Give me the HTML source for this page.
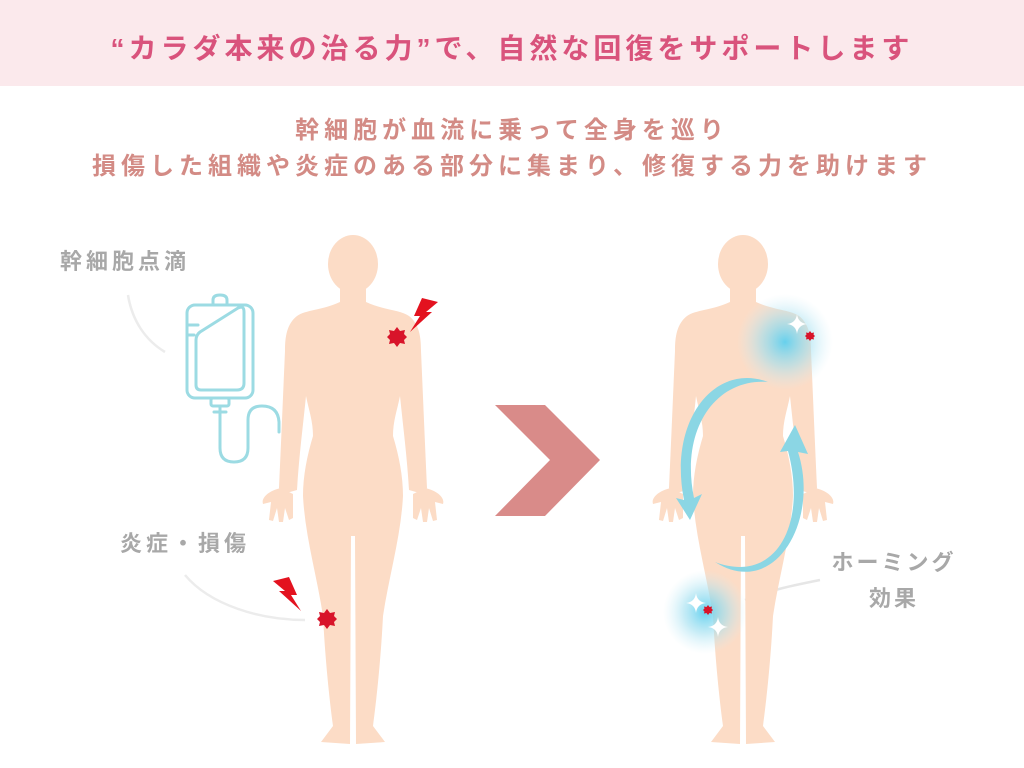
<!DOCTYPE html>
<html><head><meta charset="utf-8"><style>
body{margin:0;width:1024px;height:768px;background:#fff;overflow:hidden;position:relative;font-family:"Liberation Sans","Noto Sans CJK JP",sans-serif;}
.bar{position:absolute;left:0;top:0;width:1024px;height:86px;background:#fbe9ec;}
.t{position:absolute;white-space:nowrap;font-weight:bold;}
</style></head><body>
<div class="bar"></div>
<div class="t" style="left:0;width:1024px;text-align:center;top:27px;font-size:28px;color:#d9537c;letter-spacing:4px;">“カラダ本来の治る力”で、自然な回復をサポートします</div>
<div class="t" style="left:0;width:1024px;text-align:center;top:113px;font-size:24px;color:#d38b85;letter-spacing:5px;line-height:36px;">幹細胞が血流に乗って全身を巡り<br>損傷した組織や炎症のある部分に集まり、修復する力を助けます</div>
<div class="t" style="left:60px;top:244px;font-size:22px;color:#a8a8a8;letter-spacing:4px;">幹細胞点滴</div>
<div class="t" style="left:120px;top:526px;font-size:22px;color:#a8a8a8;letter-spacing:4px;">炎症・損傷</div>
<div class="t" style="left:826px;top:545px;width:136px;text-align:center;font-size:22px;color:#a8a8a8;letter-spacing:3px;line-height:36px;">ホーミング<br>効果</div>
<svg width="1024" height="768" style="position:absolute;left:0;top:0">
<defs>
<symbol id="body" overflow="visible">
<g fill="#fcdcc6" stroke="none">
<ellipse cx="0" cy="28" rx="25" ry="29"/>
<rect x="-13" y="45" width="26" height="30"/>
<path d="M -13,66 C -30,74 -48,74 -56,80 C -66,88 -68,100 -68,115 C -70,160 -72,210 -74,252 L -70,258 L -56,254 C -54,220 -50,190 -47,160 C -44,175 -40,185 -40,200 C -46,220 -50,240 -50,260 C -48,300 -36,340 -30,380 C -28,420 -24,460 -20,490 L -32,506 L -3,508 L -2,300 L 2,300 L 3,508 L 32,506 L 20,490 C 24,460 28,420 30,380 C 36,340 48,300 50,260 C 50,240 46,220 40,200 C 40,185 44,175 47,160 C 50,190 54,220 56,254 L 70,258 L 74,252 C 72,210 70,160 68,115 C 68,100 66,88 56,80 C 48,74 30,74 13,66 Z"/>
<path d="M-72,252 C-85,255 -92,262 -90,268 L-82,266 L-84,284 L-80,285 L-76,272 L-74,286 L-70,286 L-68,272 L-64,284 L-60,282 L-60,258 Z"/>
<path d="M72,252 C85,255 92,262 90,268 L82,266 L84,284 L80,285 L76,272 L74,286 L70,286 L68,272 L64,284 L60,282 L60,258 Z"/>
</g>
</symbol>
<symbol id="star" overflow="visible"><polygon fill="#d8142a" points="0,-10 3,-6 8,-7 7,-3 10,0 7,3 8,7 3,6 0,10 -3,6 -8,7 -7,3 -10,0 -7,-3 -8,-7 -3,-6"/></symbol>
<symbol id="bolt" overflow="visible"><polygon fill="#e3121f" points="6,-18 22,-14 10,-4 16,-4 -6,16 4,0 -2,0 "/></symbol>
<symbol id="spark" overflow="visible"><path fill="#fff" d="M0,-10 Q1,-1 10,0 Q1,1 0,10 Q-1,1 -10,0 Q-1,-1 0,-10Z"/></symbol>
<radialGradient id="g"><stop offset="0" stop-color="#5fd0ef" stop-opacity="0.95"/><stop offset="0.5" stop-color="#9fdff0" stop-opacity="0.6"/><stop offset="1" stop-color="#cfeef8" stop-opacity="0"/></radialGradient>
</defs>
<path d="M128,295 C132,320 145,340 165,352" stroke="#ececec" stroke-width="2.5" fill="none"/>
<path d="M185,575 C210,605 260,620 305,620" stroke="#ececec" stroke-width="2.5" fill="none"/>
<path d="M745,600 C770,590 795,585 820,580" stroke="#e6e6e6" stroke-width="2.5" fill="none"/>
<g stroke="#9cdbe3" stroke-width="3" fill="none" stroke-linecap="round">
<rect x="187" y="305" width="66" height="93" rx="8"/>
<path d="M213,305 L213,300 Q213,295 220,295 Q227,295 227,300 L227,305"/>
<path d="M200,332 L238,308 Q244,305 244,312 L244,383 Q244,390 237,390 L201,390 Q196,390 196,385 L196,340 Q196,335 200,332Z"/>
<line x1="188" y1="325" x2="198" y2="325"/><line x1="188" y1="335" x2="194" y2="335"/>
<rect x="211" y="398" width="18" height="8" rx="2"/>
<line x1="214" y1="412" x2="226" y2="412"/>
<path d="M220,406 L220,448 Q220,462 234,462 Q248,462 248,448 L248,420 Q248,406 262,406 Q278,406 279,422 L279,432"/>
</g>
<use href="#body" x="353" y="236"/>
<use href="#star" x="397" y="337"/>
<use href="#bolt" x="416" y="316"/>
<use href="#star" x="327" y="619"/>
<use href="#bolt" x="295" y="595" transform="scale(-1,1) translate(-590,0)"/>
<polygon fill="#d98b89" points="495,405 545,405 600,460 545,516 495,516 550,460"/>
<use href="#body" x="743" y="236"/>
<circle cx="785" cy="342" r="48" fill="url(#g)"/>
<circle cx="705" cy="612" r="42" fill="url(#g)"/>
<use href="#star" x="810" y="336" transform="translate(810,336) scale(0.5) translate(-810,-336)"/>
<use href="#star" x="708" y="610" transform="translate(708,610) scale(0.5) translate(-708,-610)"/>
<use href="#spark" x="797" y="324"/>
<use href="#spark" x="696" y="603"/>
<use href="#spark" x="718" y="627"/>
<g fill="#8bd6e4">
<path d="M768,382 C715,362 668,420 684,500 L676,498 L690,520 L702,494 L694,498 C680,430 715,378 768,382Z"/>
<path d="M715,562 C775,600 820,520 798,452 L808,454 L795,425 L780,452 L788,451 C808,525 775,585 715,562Z"/>
</g>
</svg>
</body></html>
